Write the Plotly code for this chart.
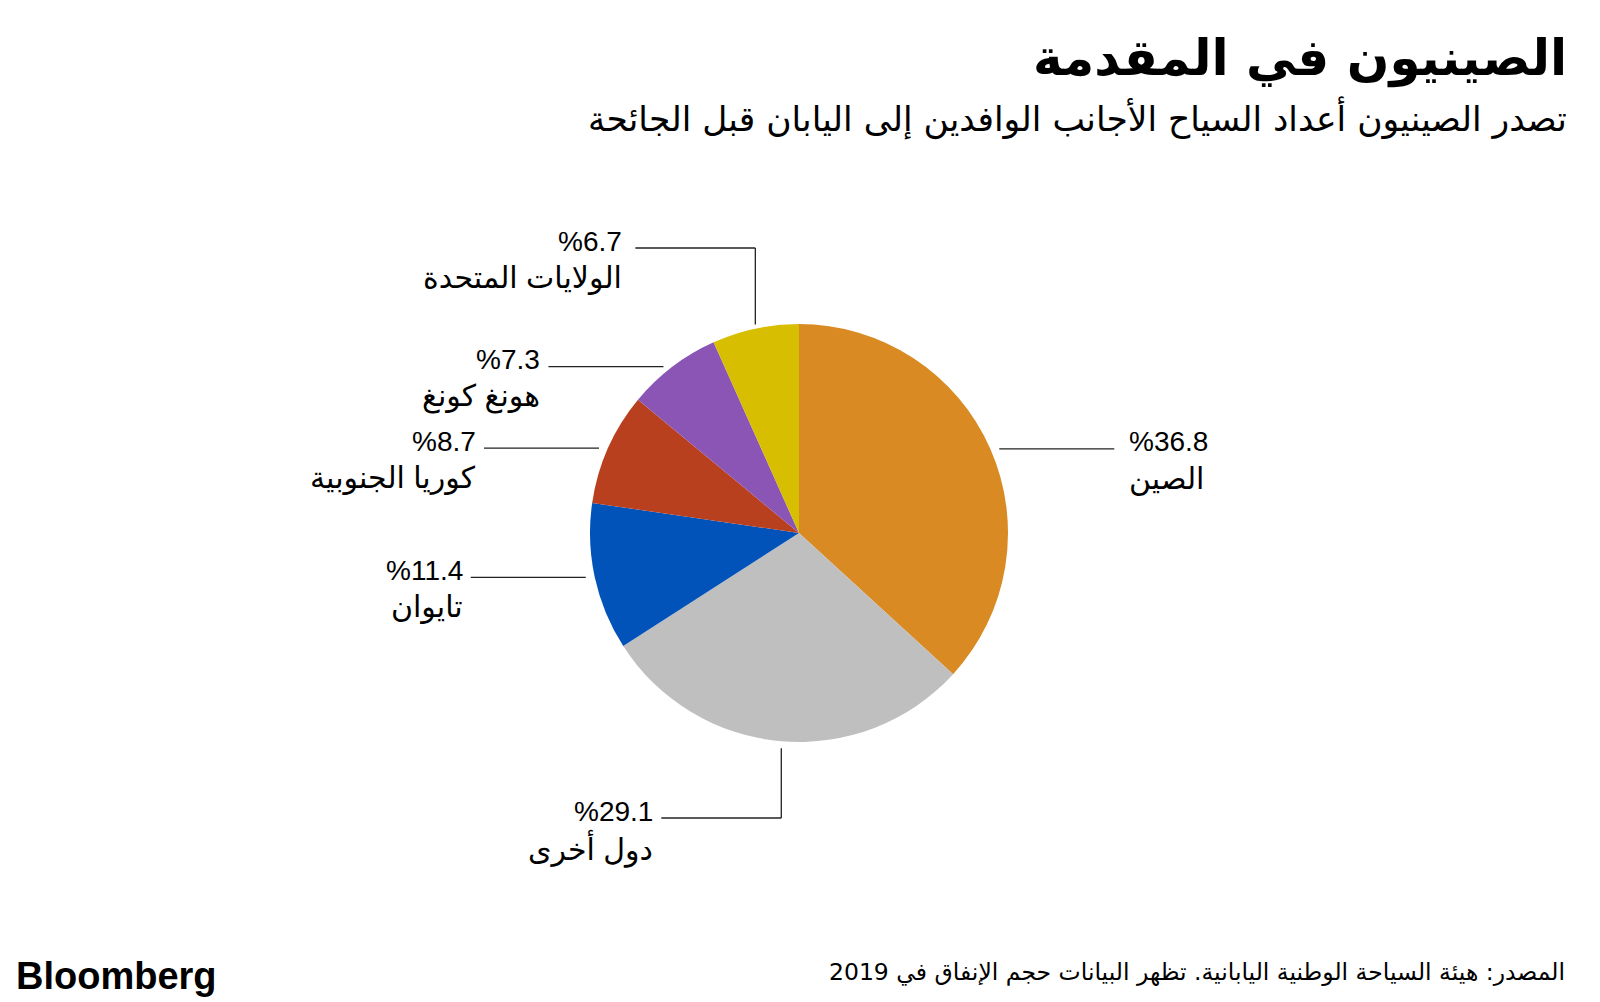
import math
import plotly.graph_objects as go

# ---- data ----
countries = ["الصين", "دول أخرى", "تايوان", "كوريا الجنوبية", "هونغ كونغ", "الولايات المتحدة"]
shares = [36.8, 29.1, 11.4, 8.7, 7.3, 6.7]
colors = ["#D98A22", "#BFBFBF", "#0153BA", "#B9401F", "#8B55B6", "#D7BE00"]

title = "الصينيون في المقدمة"
subtitle = "تصدر الصينيون أعداد السياح الأجانب الوافدين إلى اليابان قبل الجائحة"
source = "المصدر: هيئة السياحة الوطنية اليابانية. تظهر البيانات حجم الإنفاق في 2019"

W, H = 1600, 1002
CX, CY, R = 799, 533, 209

# label layout: side of each label ("right", "left", "up", "down")
sides = ["right", "down", "left", "left", "left", "up"]

fig = go.Figure()
fig.add_trace(go.Pie(
    values=shares, labels=countries, marker=dict(colors=colors, line=dict(width=0)),
    sort=False, direction="clockwise", rotation=0, textinfo="none", hoverinfo="label+value",
    showlegend=False,
    domain=dict(x=[(CX - R) / W, (CX + R) / W], y=[1 - (CY + R) / H, 1 - (CY - R) / H]),
))

shapes = []
annotations = []
LINE_FONT = "Liberation Sans, Arial, DejaVu Sans, sans-serif"
pct_font = dict(family=LINE_FONT, size=28, color="#000")
name_font = dict(family=LINE_FONT, size=30, color="#000")
total = sum(shares)
cum = 0.0
for name, v, side in zip(countries, shares, sides):
    mid = (cum + v / 2) / total * 2 * math.pi
    cum += v
    ex = CX + R * math.sin(mid)
    ey = CY - R * math.cos(mid)
    pct = f"%{v}"
    ln = dict(type="line", xref="x", yref="y", line=dict(color="#222", width=1.3))
    if side in ("left", "right"):
        sgn = -1 if side == "left" else 1
        x0 = ex + sgn * 9
        x1 = x0 + sgn * 115
        shapes.append({**ln, "x0": x0, "x1": x1, "y0": ey, "y1": ey})
        tx = x1 + sgn * (6 if side == "left" else 13)
        anchor = "right" if side == "left" else "left"
        ty = ey
    else:
        if side == "up":
            y0 = ey - 4
            ty = 248
        else:
            y0 = ey + 7
            ty = 818
        shapes.append({**ln, "x0": ex, "x1": ex, "y0": y0, "y1": ty})
        x1 = ex - 120
        shapes.append({**ln, "x0": ex, "x1": x1, "y0": ty, "y1": ty})
        tx = x1 - (11 if side == "up" else 6)
        anchor = "right"
    annotations.append(dict(x=tx, y=ty - 7, xref="x", yref="y", text=pct, showarrow=False,
                            xanchor=anchor, yanchor="middle", font=pct_font))
    annotations.append(dict(x=tx, y=ty + 30, xref="x", yref="y", text=name, showarrow=False,
                            xanchor=anchor, yanchor="middle", font=name_font))

annotations += [
    dict(x=1569, y=58, xref="x", yref="y", text=f"<b>{title}</b>", showarrow=False,
         xanchor="right", yanchor="middle", font=dict(family="DejaVu Sans, sans-serif", size=50, color="#000")),
    dict(x=1569, y=118, xref="x", yref="y", text=subtitle, showarrow=False,
         xanchor="right", yanchor="middle", font=dict(family="DejaVu Sans, sans-serif", size=34.5, color="#000")),
    dict(x=1567, y=972, xref="x", yref="y", text=source, showarrow=False,
         xanchor="right", yanchor="middle", font=dict(family="DejaVu Sans, sans-serif", size=23.5, color="#000")),
    dict(x=14, y=976, xref="x", yref="y", text="<b>Bloomberg</b>", showarrow=False,
         xanchor="left", yanchor="middle", font=dict(family="Liberation Sans, Arial, sans-serif", size=38, color="#000")),
]

fig.update_layout(
    width=W, height=H, margin=dict(l=0, r=0, t=0, b=0),
    paper_bgcolor="white", plot_bgcolor="rgba(0,0,0,0)",
    xaxis=dict(range=[0, W], visible=False, fixedrange=True),
    yaxis=dict(range=[H, 0], visible=False, fixedrange=True),
    shapes=shapes, annotations=annotations,
)

fig.write_html("out.html")
